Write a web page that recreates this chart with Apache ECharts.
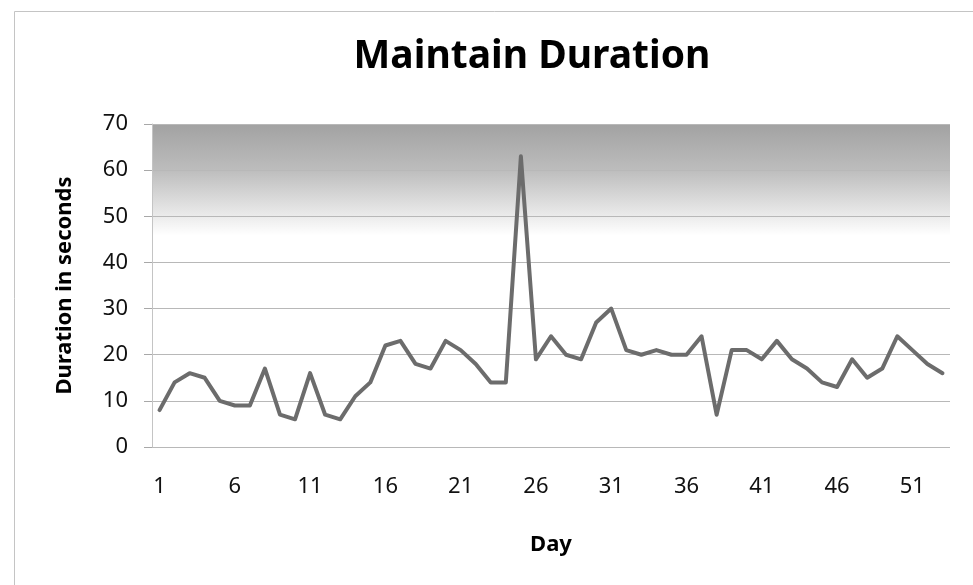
<!DOCTYPE html>
<html>
<head>
<meta charset="utf-8">
<script src="https://cdn.jsdelivr.net/npm/echarts@6/dist/echarts.min.js"></script>
<style>
html,body{margin:0;padding:0;background:#fff;}
#chart{width:973px;height:585px;}
</style>
</head>
<body>
<div id="chart"></div>
<script>
const titleText = 'Maintain Duration';
const xAxisTitle = 'Day';
const yAxisTitle = 'Duration in seconds';
const days = ['1','2','3','4','5','6','7','8','9','10','11','12','13','14','15','16','17','18','19','20','21','22','23','24','25','26','27','28','29','30','31','32','33','34','35','36','37','38','39','40','41','42','43','44','45','46','47','48','49','50','51','52','53'];
const durations = [8,14,16,15,10,9,9,17,7,6,16,7,6,11,14,22,23,18,17,23,21,18,14,14,63,19,24,20,19,27,30,21,20,21,20,20,24,7,21,21,19,23,19,17,14,13,19,15,17,24,21,18,16];
const yMin = 0, yMax = 70, yStep = 10;

const FONT = '"Noto Sans", "Open Sans", sans-serif';
const chart = echarts.init(document.getElementById('chart'), null, {renderer: 'canvas'});
chart.setOption({
  animation: false,
  backgroundColor: '#ffffff',
  graphic: [{
    type: 'rect', z: -10, silent: true,
    shape: {x: 14.5, y: 11.5, width: 1000, height: 700},
    style: {fill: null, stroke: '#c4c4c4', lineWidth: 1}
  }],
  title: {
    text: titleText,
    left: 527, top: 32, textAlign: 'center',
    textStyle: {fontFamily: FONT, fontSize: 39, fontWeight: 'bold', color: '#000'}
  },
  grid: {
    left: 152, right: 23, top: 124, bottom: 138,
    show: true, borderWidth: 0,
    backgroundColor: {
      type: 'linear', x: 0, y: 0, x2: 0, y2: 1,
      colorStops: [
        {offset: 0, color: '#a2a2a2'},
        {offset: 0.14, color: '#bcbcbc'},
        {offset: 0.285, color: '#ebebeb'},
        {offset: 0.345, color: '#ffffff'},
        {offset: 1, color: '#ffffff'}
      ]
    }
  },
  xAxis: {
    type: 'category',
    data: days,
    boundaryGap: true,
    name: xAxisTitle,
    nameLocation: 'middle',
    nameGap: 87,
    nameTextStyle: {fontFamily: FONT, fontSize: 22, fontWeight: 'bold', color: '#000'},
    axisLine: {show: false},
    axisTick: {show: false},
    axisLabel: {interval: 4, margin: 29, fontFamily: FONT, fontSize: 22, color: '#111'},
    splitLine: {show: false}
  },
  yAxis: {
    type: 'value',
    min: yMin, max: yMax, interval: yStep,
    name: yAxisTitle,
    nameLocation: 'middle',
    nameRotate: 90,
    nameGap: 76,
    nameTextStyle: {fontFamily: FONT, fontSize: 22, fontWeight: 'bold', color: '#000'},
    axisLine: {show: true, lineStyle: {color: '#c4c4c4', width: 1}},
    axisTick: {show: true, length: 8, lineStyle: {color: '#a8a8a8'}},
    axisLabel: {margin: 24, fontFamily: FONT, fontSize: 22, color: '#111'},
    splitLine: {show: true, lineStyle: {color: '#b8b8b8', width: 1}}
  },
  series: [{
    type: 'line',
    data: durations,
    showSymbol: false,
    symbol: 'none',
    lineStyle: {color: '#6c6c6c', width: 4, join: 'round', cap: 'round'},
    itemStyle: {color: '#6c6c6c'}
  }]
});
</script>
</body>
</html>
